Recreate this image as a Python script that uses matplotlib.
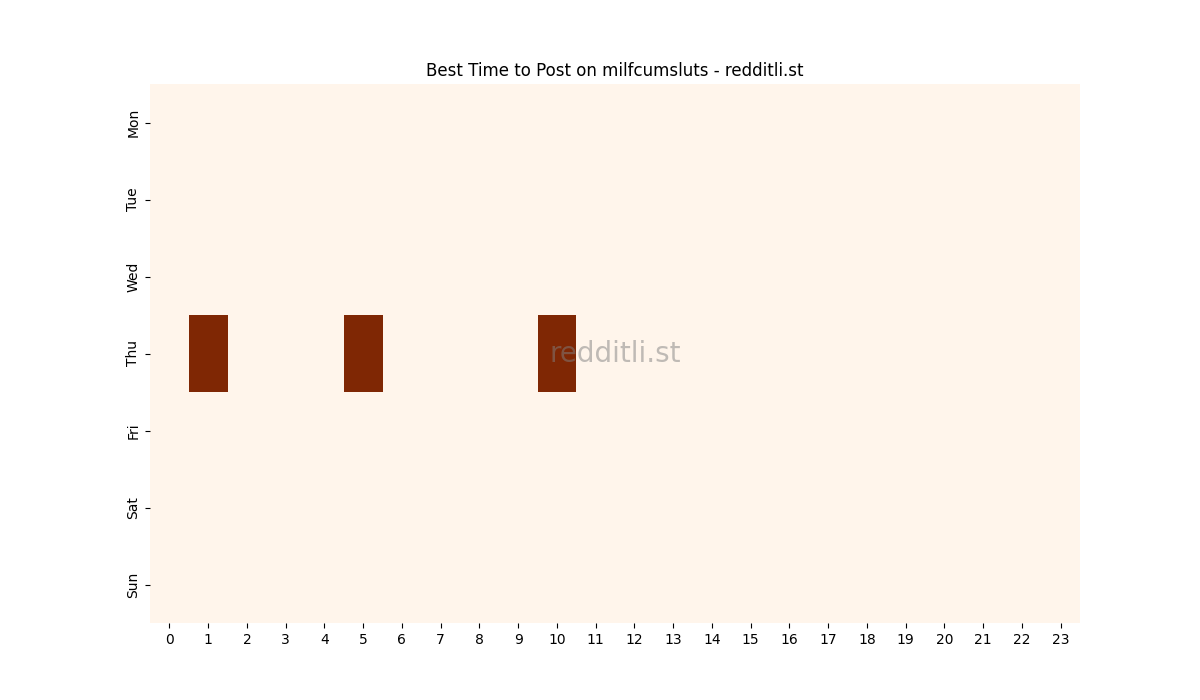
import matplotlib
matplotlib.use("Agg")
import matplotlib.pyplot as plt
import numpy as np
import seaborn as sns

# Jours et heures affichés
jours = ["Mon", "Tue", "Wed", "Thu", "Fri", "Sat", "Sun"]
heures = list(range(24))

# Nombre de posts par (jour, heure) : seuls trois créneaux du jeudi sont non nuls
creneaux_jeudi = [1, 5, 10]
valeurs_jeudi = [1, 1, 1]

grille = np.zeros((len(jours), len(heures)))
for h, v in zip(creneaux_jeudi, valeurs_jeudi):
    grille[jours.index("Thu"), h] = v

fig, ax = plt.subplots(figsize=(12, 7), dpi=100)
sns.heatmap(grille, cmap="Oranges", cbar=False, ax=ax,
            xticklabels=heures, yticklabels=jours)
ax.set_yticklabels(jours, rotation=90, va="center")
ax.set_xticklabels(heures, rotation=0)
ax.set_title("Best Time to Post on milfcumsluts - redditli.st")

# filigrane au centre
ax.text(0.5, 0.5, "redditli.st", transform=ax.transAxes, fontsize=20,
        color="gray", alpha=0.5, ha="center", va="center")

fig.savefig("out.png")
